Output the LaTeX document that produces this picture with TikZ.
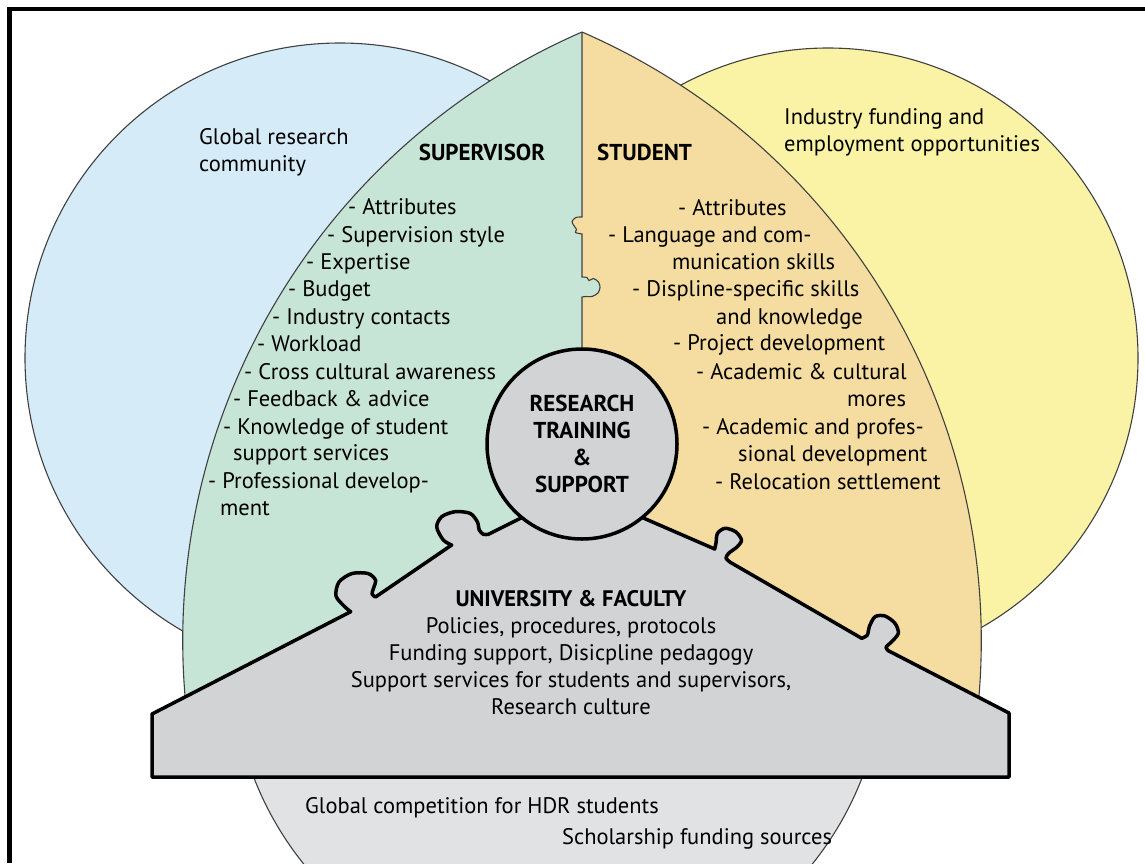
\documentclass[tikz,border=0pt]{standalone}
\usepackage{fontspec}
\setmainfont{PT Sans}
\definecolor{globalblue}{RGB}{214,235,248}
\definecolor{industryyellow}{RGB}{250,243,166}
\definecolor{supgreen}{RGB}{199,229,214}
\definecolor{stuorange}{RGB}{245,220,160}
\definecolor{housegray}{RGB}{209,211,213}
\definecolor{competegray}{RGB}{225,226,228}
\begin{document}
\begin{tikzpicture}[x=1pt,y=-1pt,
    txt/.style={font=\fontsize{22.5}{27}\selectfont, inner sep=0pt},
    item/.style={txt, anchor=base west},
    head/.style={txt, font=\fontsize{23}{27}\selectfont\bfseries},
    rim/.style={draw=black!75, line width=1.1pt},
    piece/.style={draw=black, line width=3.5pt, line join=round},
    divider/.style={insert path={-- (582,217) -- plot[smooth] coordinates {(582,217) (576,217.5) (572,221.5) (574.5,226.5) (576.5,229.5) (575.5,232.5) (582,234)}
      -- (582,277) -- plot[smooth] coordinates {(582,277) (587,277.5) (589,280.5) (593.5,278.5) (598.5,282) (600,287.5) (598,293) (592,296.5) (586,296.5) (582,297)}}}]
  \useasboundingbox (0,0) rectangle (1145,863);
  \draw[line width=4.5pt] (1145,9) -- (9.5,9) -- (9.5,863);

  \draw[rim, fill=globalblue] (340,358) circle[radius=315];
  \draw[rim, fill=industryyellow] (828,358) circle[radius=310];
  \draw[rim, fill=competegray] (558,660) circle[radius=326];

  \begin{scope}
    \clip (847,641) circle[radius=664];
    \clip (317,641) circle[radius=664];
    \fill[supgreen] (0,0) -- (582,0) [divider] -- (582,770) -- (0,770) -- cycle;
    \fill[stuorange] (1145,0) -- (582,0) [divider] -- (582,770) -- (1145,770) -- cycle;
  \end{scope}
  \draw[rim] (582,32) arc[start angle=246.5, end angle=168.8, radius=664];
  \draw[rim] (582,32) arc[start angle=-66.5, end angle=11.2, radius=664];
  \draw[rim] (582,32) [divider] -- (582,360);

  \draw[piece, fill=housegray] (152,777) -- (152,714) -- (350.7,611.7)
    -- plot[smooth] coordinates {(350.7,611.7) (345,607) (336,596) (339,582) (352,573.5) (368,573.5) (375.5,580) (373.6,588) (372,594) (375.5,597)}
    -- (451.7,545)
    -- plot[smooth] coordinates {(451.7,545) (443.3,540) (436.7,527) (441.7,516.7) (455,511.7) (470,513.3) (477.3,521.7) (479.3,530) (483.3,534.3) (488.3,534.3)}
    -- (523,517) -- (641.7,517.3) -- (714.7,549)
    -- plot[smooth] coordinates {(714.7,549) (716,543) (717.5,533.3) (725.1,528.3) (735.6,531.7) (741.5,540) (737.3,546.7) (729,553) (726,558) (730.3,562.3)}
    -- (861.7,638.3)
    -- plot[smooth] coordinates {(861.7,638.3) (867.3,635) (869.3,626.7) (875,616.7) (885,616) (895,623.3) (898.3,633.3) (891.7,641.7) (886,647.3) (888.3,650.7)}
    -- (1009,713) -- (1009,777) -- cycle;
  \node[piece, circle, fill=housegray, minimum size=190pt, head, align=center] (hub) at (582,444) {RESEARCH\\TRAINING\\\&\\SUPPORT};

  \node[item] (globalres) at (199,144) {Global research};
  \node[item] (globalres2) at (199,171) {community};
  \node[item] (industry) at (784,124) {Industry funding and};
  \node[item] (industry2) at (784,151) {employment opportunities};
  \node[head, anchor=base] (suphead) at (482,160) {SUPERVISOR};
  \node[head, anchor=base west] (stuhead) at (597,160) {STUDENT};

  \foreach \x/\y/\t [count=\i] in {348/214/{- Attributes}, 327/242/{- Supervision style}, 306/269/{- Expertise},
      288/296/{- Budget}, 272/324/{- Industry contacts}, 257/351/{- Workload}, 244/379/{- Cross cultural awareness},
      233/406/{- Feedback \& advice}, 223/434/{- Knowledge of student}, 233/460/{support services},
      208/488/{- Professional develop-}, 220/515/{ment}}
    \node[item] (sup\i) at (\x,\y) {\t};
  \foreach \x/\y/\t [count=\i] in {678/215/{- Attributes}, 608/242/{- Language and com-}, 672/269/{munication skills},
      632/296/{- Displine-specific skills}, 716/324/{and knowledge}, 673/350/{- Project development},
      696/379/{- Academic \& cultural}, 847/406/{mores}, 702/434/{- Academic and profes-},
      738/461/{sional development}, 715/489/{- Relocation settlement}}
    \node[item] (stu\i) at (\x,\y) {\t};

  \node[txt, align=center] (univ) at (571,653) {\textbf{UNIVERSITY \& FACULTY}\\Policies, procedures, protocols\\Funding support, Disicpline pedagogy\\Support services for students and supervisors,\\Research culture};
  \node[item] (hdr) at (305,813) {Global competition for HDR students};
  \node[item] (scholar) at (562,844) {Scholarship funding sources};
\end{tikzpicture}
\end{document}
